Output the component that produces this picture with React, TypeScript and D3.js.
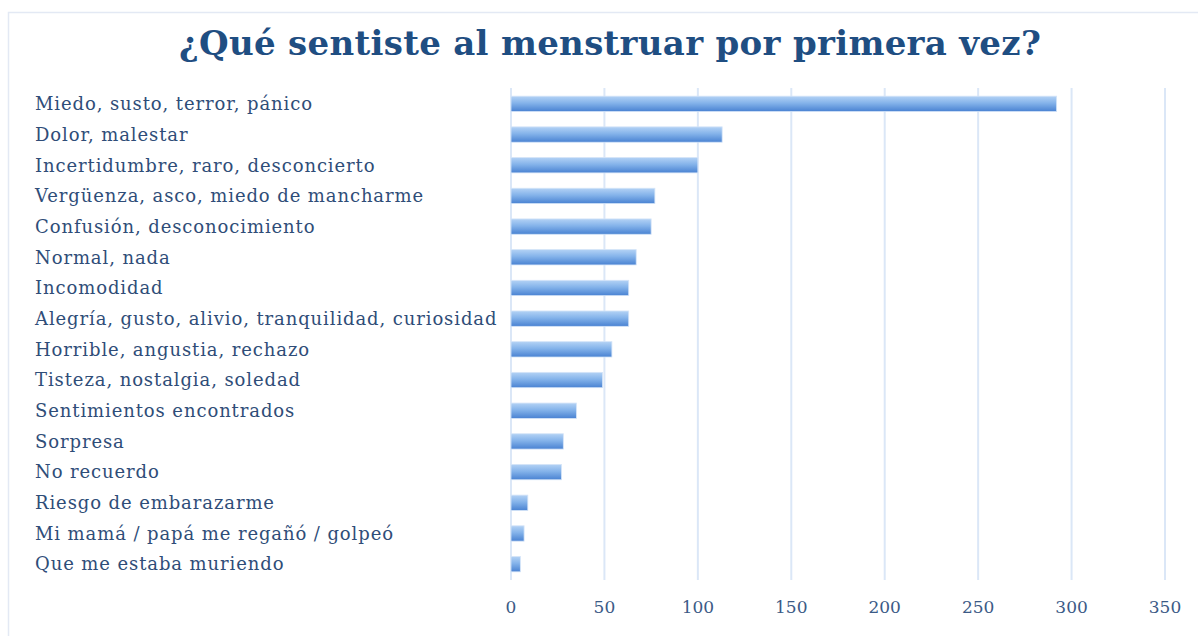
import React, { useEffect, useRef } from 'react';
import * as d3 from 'd3';

const categories = [
  'Miedo, susto, terror, pánico',
  'Dolor, malestar',
  'Incertidumbre, raro, desconcierto',
  'Vergüenza, asco, miedo de mancharme',
  'Confusión, desconocimiento',
  'Normal, nada',
  'Incomodidad',
  'Alegría, gusto, alivio, tranquilidad, curiosidad',
  'Horrible, angustia, rechazo',
  'Tisteza, nostalgia, soledad',
  'Sentimientos encontrados',
  'Sorpresa',
  'No recuerdo',
  'Riesgo de embarazarme',
  'Mi mamá / papá me regañó / golpeó',
  'Que me estaba muriendo',
];
const values = [292, 113, 100, 77, 75, 67, 63, 63, 54, 49, 35, 28, 27, 9, 7, 5];
const ticks = [0, 50, 100, 150, 200, 250, 300, 350];
const title = '¿Qué sentiste al menstruar por primera vez?';

const W = 1198;
const H = 636;

export default function App() {
  const svgRef = useRef<SVGSVGElement>(null);

  useEffect(() => {
    if (!svgRef.current) return;
    const svg = d3.select(svgRef.current);
    svg.selectAll('*').remove();

    const x = d3.scaleLinear().domain([0, 350]).range([511, 1165]);
    const y = d3.scaleBand<string>().domain(categories).range([88.5, 579.5]).paddingInner(0.5).paddingOuter(0.25);

    // gradient for bars
    const defs = svg.append('defs');
    const grad = defs.append('linearGradient')
      .attr('id', 'barGrad')
      .attr('x1', 0).attr('y1', 0).attr('x2', 0).attr('y2', 1);
    grad.append('stop').attr('offset', '0%').attr('stop-color', '#b3d2f5');
    grad.append('stop').attr('offset', '45%').attr('stop-color', '#84b3ea');
    grad.append('stop').attr('offset', '100%').attr('stop-color', '#4982d2');

    // frame
    svg.append('rect')
      .attr('x', 8.5).attr('y', 12.5)
      .attr('width', W).attr('height', H)
      .attr('fill', '#fff')
      .attr('stroke', '#e3e9f4')
      .attr('stroke-width', 1.5);

    // title
    svg.append('text')
      .attr('x', 610).attr('y', 55)
      .attr('text-anchor', 'middle')
      .attr('font-family', '"DejaVu Serif", serif')
      .attr('font-weight', 'bold')
      .attr('font-size', 34)
      .attr('letter-spacing', 0.3)
      .attr('fill', '#1f4e82')
      .text(title);

    // gridlines
    svg.append('g')
      .selectAll('line')
      .data(ticks)
      .join('line')
      .attr('x1', d => x(d)).attr('x2', d => x(d))
      .attr('y1', 88).attr('y2', 580)
      .attr('stroke', '#dbe7f7')
      .attr('stroke-width', 2);

    // bars
    svg.append('g')
      .selectAll('rect')
      .data(values)
      .join('rect')
      .attr('x', x(0))
      .attr('y', (d, i) => y(categories[i])!)
      .attr('width', d => x(d) - x(0))
      .attr('height', y.bandwidth())
      .attr('fill', 'url(#barGrad)')
      .attr('stroke', '#d4e4f8')
      .attr('stroke-width', 0.8);

    // category labels
    svg.append('g')
      .selectAll('text')
      .data(categories)
      .join('text')
      .attr('x', 35)
      .attr('y', d => y(d)! + y.bandwidth() / 2)
      .attr('dy', '0.35em')
      .attr('font-family', '"DejaVu Serif", serif')
      .attr('font-size', 18)
      .attr('letter-spacing', 0.9)
      .attr('fill', '#2f4d78')
      .text(d => d);

    // tick labels
    svg.append('g')
      .selectAll('text')
      .data(ticks)
      .join('text')
      .attr('x', d => x(d))
      .attr('y', 607)
      .attr('dy', '0.35em')
      .attr('text-anchor', 'middle')
      .attr('font-family', '"DejaVu Serif", serif')
      .attr('font-size', 17)
      .attr('fill', '#3b5a86')
      .text(d => d);
  }, []);

  return (
    <div style={{ position: 'fixed', left: 0, top: 0, width: W, height: H, background: '#fff' }}>
      <svg ref={svgRef} width={W} height={H} />
    </div>
  );
}
